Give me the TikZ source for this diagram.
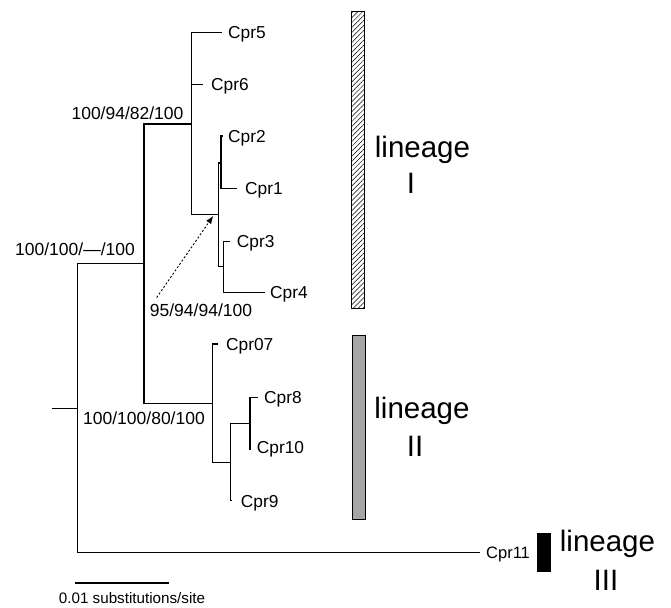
\documentclass[tikz,border=0pt]{standalone}
\usepackage{fontspec}
\setmainfont{Liberation Sans}
\usetikzlibrary{arrows.meta,patterns.meta}
\definecolor{barGray}{RGB}{166,166,166}
\begin{document}
\begin{tikzpicture}[x=1pt,y=-1pt,
  branch/.style={line width=1.1pt, line join=miter},
  leaf/.style={anchor=west, inner sep=0pt, text height=12.4pt, text depth=0pt,
    font=\fontsize{17.3}{20}\selectfont},
  support/.style={inner sep=0pt, text height=12.5pt, text depth=0pt,
    font=\fontsize{17.5}{20}\selectfont},
  lineagetxt/.style={anchor=base, inner sep=0pt, font=\fontsize{29.5}{32}\selectfont},
  pointer/.style={line width=0.9pt, dash pattern=on 2pt off 2pt,
    -{Latex[length=8pt,width=6pt]}},
  scaletxt/.style={inner sep=0pt, text height=10.9pt, text depth=0pt,
    font=\fontsize{15.2}{18}\selectfont}
]
\useasboundingbox (0,0) rectangle (671,607);

% internal nodes of the tree
\coordinate (stub) at (51.7,408.3);
\coordinate (R)    at (77.3,408.3);
\coordinate (A)    at (144,263.3);
\coordinate (L1)   at (191.7,124);
\coordinate (B)    at (218.3,214.3);
\coordinate (C12)  at (221,163);
\coordinate (C34)  at (223.3,266.7);
\coordinate (L2)   at (212.7,403.3);
\coordinate (D)    at (230.7,462.3);
\coordinate (E)    at (250,423.3);

% branch tips
\coordinate (t5)  at (221.7,32.3);
\coordinate (t6)  at (203,84.3);
\coordinate (t2)  at (222.5,136);
\coordinate (t1)  at (236.7,188.3);
\coordinate (t3)  at (230,241.7);
\coordinate (t4)  at (265,292.3);
\coordinate (t7)  at (218.3,344);
\coordinate (t8)  at (258.3,397.3);
\coordinate (t10) at (250.8,449);
\coordinate (t9)  at (232,500.7);
\coordinate (t11) at (480,552.7);

% rectangular branches
\draw[branch] (stub) -- (R);
\draw[branch] (R) |- (A);
\draw[branch] (R) |- (t11);
\draw[branch] (A) |- (L1);
\draw[branch] (A) |- (L2);
\draw[branch] (L1) |- (t5);
\draw[branch] (L1) |- (t6);
\draw[branch] (L1) |- (B);
\draw[branch] (B) |- (C12);
\draw[branch] (B) |- (C34);
\draw[branch] (C12) |- (t2);
\draw[branch] (C12) |- (t1);
\draw[branch] (C34) |- (t3);
\draw[branch] (C34) |- (t4);
\draw[branch] (L2) |- (t7);
\draw[branch] (L2) |- (D);
\draw[branch] (D) |- (E);
\draw[branch] (D) |- (t9);
\draw[branch] (E) |- (t8);
\draw[branch] (E) |- (t10);

% taxon labels
\node[leaf] (n5)  at (228,32.5)   {Cpr5};
\node[leaf] (n6)  at (211,84.5)   {Cpr6};
\node[leaf] (n2)  at (228,136.5)  {Cpr2};
\node[leaf] (n1)  at (245,188.5)  {Cpr1};
\node[leaf] (n3)  at (236.7,241.7){Cpr3};
\node[leaf] (n4)  at (270,292.5)  {Cpr4};
\node[leaf] (n7)  at (226,344.5)  {Cpr07};
\node[leaf] (n8)  at (264,397)    {Cpr8};
\node[leaf] (n10) at (256.7,447)  {Cpr10};
\node[leaf] (n9)  at (240.7,501)  {Cpr9};
\node[leaf, font=\fontsize{16.5}{19}\selectfont, text height=11.8pt] (n11) at (486,553) {Cpr11};

% support values
\node[support] (s1) at (127.5,113) {100/94/82/100};
\node[support] (s2) at (75,249)    {100/100/—/100};
\node[support] (s3) at (201,310)   {95/94/94/100};
\node[support] (s4) at (144,418.3) {100/100/80/100};

\draw[pointer] ([xshift=7pt,yshift=6pt]s3.north west) -- ([xshift=-5pt,yshift=-1.5pt]B);

% lineage bars
\draw[line width=0.8pt, pattern={Lines[angle=45,distance=3.5pt,line width=0.5pt]}]
  (351.7,11.7) rectangle (364.3,308);
\draw[line width=0.8pt, fill=barGray] (352.7,335.4) rectangle (365.7,519.5);
\fill (537,533) rectangle (550.5,572);

% lineage names
\node[lineagetxt] (g1a) at (422.5,157.3) {lineage};
\node[lineagetxt] (g1b) at (411,193.3)   {I};
\node[lineagetxt] (g2a) at (422,418.3)   {lineage};
\node[lineagetxt] (g2b) at (415,456)     {II};
\node[lineagetxt] (g3a) at (607.5,551.7) {lineage};
\node[lineagetxt] (g3b) at (606,590)     {III};

% scale bar
\coordinate (sb1) at (75,582.5);
\coordinate (sb2) at (168.5,582.5);
\draw[line width=2pt] (sb1) -- (sb2);
\node[scaletxt] (sbl) at (132,598.3) {0.01 substitutions/site};
\end{tikzpicture}
\end{document}
